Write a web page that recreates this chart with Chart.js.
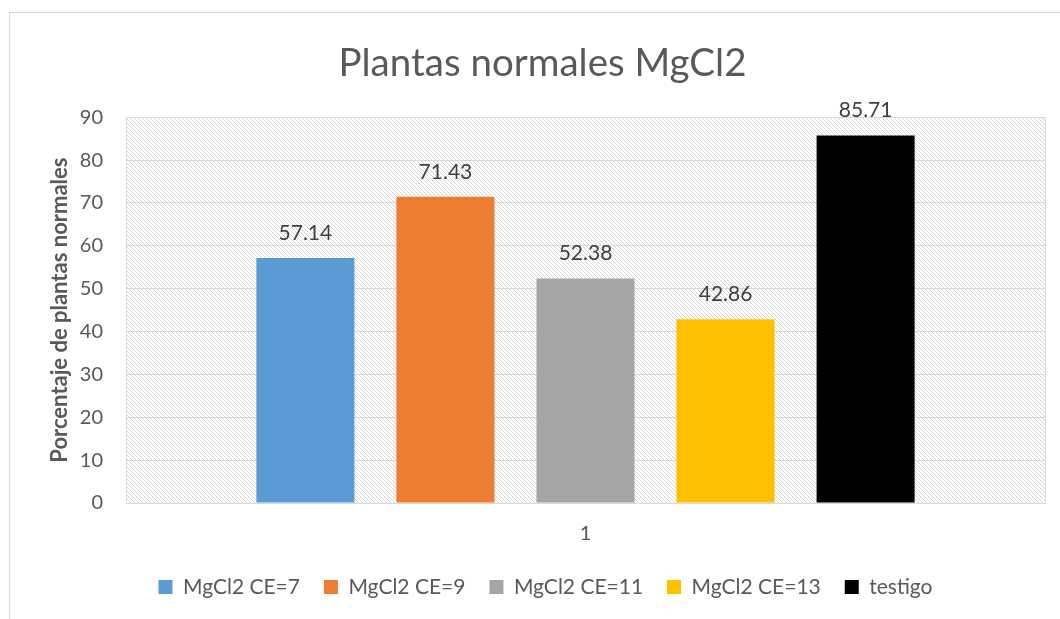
<!DOCTYPE html>
<html>
<head>
<meta charset="utf-8">
<script src="https://cdn.jsdelivr.net/npm/chart.js@4.4.1/dist/chart.umd.min.js"></script>
<style>
html,body{margin:0;padding:0;background:#fff;}
#wrap{width:1060px;height:619px;position:relative;}
</style>
</head>
<body>
<div id="wrap"><canvas id="c" width="1060" height="619"></canvas></div>
<script>
const categories = ["1"];
const seriesNames = ["MgCl2 CE=7", "MgCl2 CE=9", "MgCl2 CE=11", "MgCl2 CE=13", "testigo"];
const seriesValues = [[57.14], [71.43], [52.38], [42.86], [85.71]];
const seriesColors = ["#5B9BD5", "#ED7D31", "#A5A5A5", "#FFC000", "#000000"];
const yTicks = [0, 10, 20, 30, 40, 50, 60, 70, 80, 90];

const FONT = "Lato, 'Open Sans', sans-serif";
const TXT = "#595959";

function makePattern(ctx) {
  const t = document.createElement('canvas');
  t.width = 8; t.height = 8;
  const g = t.getContext('2d');
  g.fillStyle = '#ffffff';
  g.fillRect(0, 0, 8, 8);
  g.fillStyle = '#d6d6d6';
  for (let y = 0; y < 8; y++) for (let x = 0; x < 8; x++) {
    if (((x - y) % 4 + 4) % 4 === 0) g.fillRect(x, y, 1, 1);
  }
  return ctx.createPattern(t, 'repeat');
}

const bgPlugin = {
  id: 'bg',
  afterLayout(chart) {
    if (chart.titleBlock) { chart.titleBlock.left += 30; }
    if (chart.legend) { chart.legend.left += 36; chart.legend.right += 0; }
  },
  beforeDraw(chart) {
    const {ctx, chartArea: a} = chart;
    ctx.save();
    ctx.fillStyle = '#fff';
    ctx.fillRect(0, 0, chart.width, chart.height);
    ctx.strokeStyle = '#d9d9d9';
    ctx.lineWidth = 1;
    ctx.strokeRect(9.5, 12.5, 1200, 800);
    ctx.fillStyle = makePattern(ctx);
    ctx.fillRect(a.left, a.top, a.right - a.left, a.bottom - a.top);
    ctx.restore();
  },
  afterDatasetsDraw(chart) {
    const {ctx, chartArea: a} = chart;
    ctx.save();
    ctx.strokeStyle = '#d9d9d9';
    ctx.lineWidth = 1;
    ctx.strokeRect(Math.round(a.left) + 0.5, Math.round(a.top) + 0.5, Math.round(a.right - a.left), Math.round(a.bottom - a.top));
    ctx.font = "21px " + FONT;
    ctx.fillStyle = "#404040";
    ctx.textAlign = 'center';
    ctx.textBaseline = 'middle';
    chart.data.datasets.forEach((ds, i) => {
      const meta = chart.getDatasetMeta(i);
      meta.data.forEach((bar, j) => {
        ctx.fillText(ds.data[j].toFixed(2), bar.x, bar.y - 25);
      });
    });
    ctx.restore();
  }
};

new Chart(document.getElementById('c'), {
  type: 'bar',
  data: {
    labels: categories,
    datasets: seriesNames.map((n, i) => ({
      label: n,
      data: seriesValues[i],
      backgroundColor: seriesColors[i],
      borderWidth: 0
    }))
  },
  options: {
    responsive: false,
    animation: false,
    devicePixelRatio: 1,
    layout: {padding: {left: 10, right: 15, top: 0, bottom: 11.5}},
    datasets: {bar: {categoryPercentage: 0.762, barPercentage: 0.7}},
    plugins: {
      tooltip: {enabled: false},
      title: {
        display: true,
        text: 'Plantas normales MgCl2',
        color: TXT,
        font: {family: FONT, size: 38.5, weight: 'normal'},
        padding: {top: 40, bottom: 31}
      },
      legend: {
        position: 'bottom',
        labels: {
          color: TXT,
          font: {family: FONT, size: 21},
          boxWidth: 14,
          boxHeight: 14,
          padding: 24
        }
      }
    },
    scales: {
      x: {
        grid: {display: false, drawTicks: false},
        border: {display: false},
        ticks: {color: TXT, font: {family: FONT, size: 20}, padding: 19},
        afterFit(s) { s.height = 49.5; }
      },
      y: {
        min: 0, max: 90,
        afterBuildTicks(s) { s.ticks = yTicks.map(v => ({value: v})); },
        grid: {color: '#d9d9d9', drawTicks: false},
        border: {display: false},
        ticks: {color: TXT, font: {family: FONT, size: 20}, padding: 23},
        title: {
          display: true,
          text: 'Porcentaje de plantas normales',
          color: TXT,
          font: {family: FONT, size: 22, weight: 'bold'},
          padding: {top: 37, bottom: 4}
        },
        afterFit(s) { s.width = 116; }
      }
    }
  },
  plugins: [bgPlugin]
});
</script>
</body>
</html>
